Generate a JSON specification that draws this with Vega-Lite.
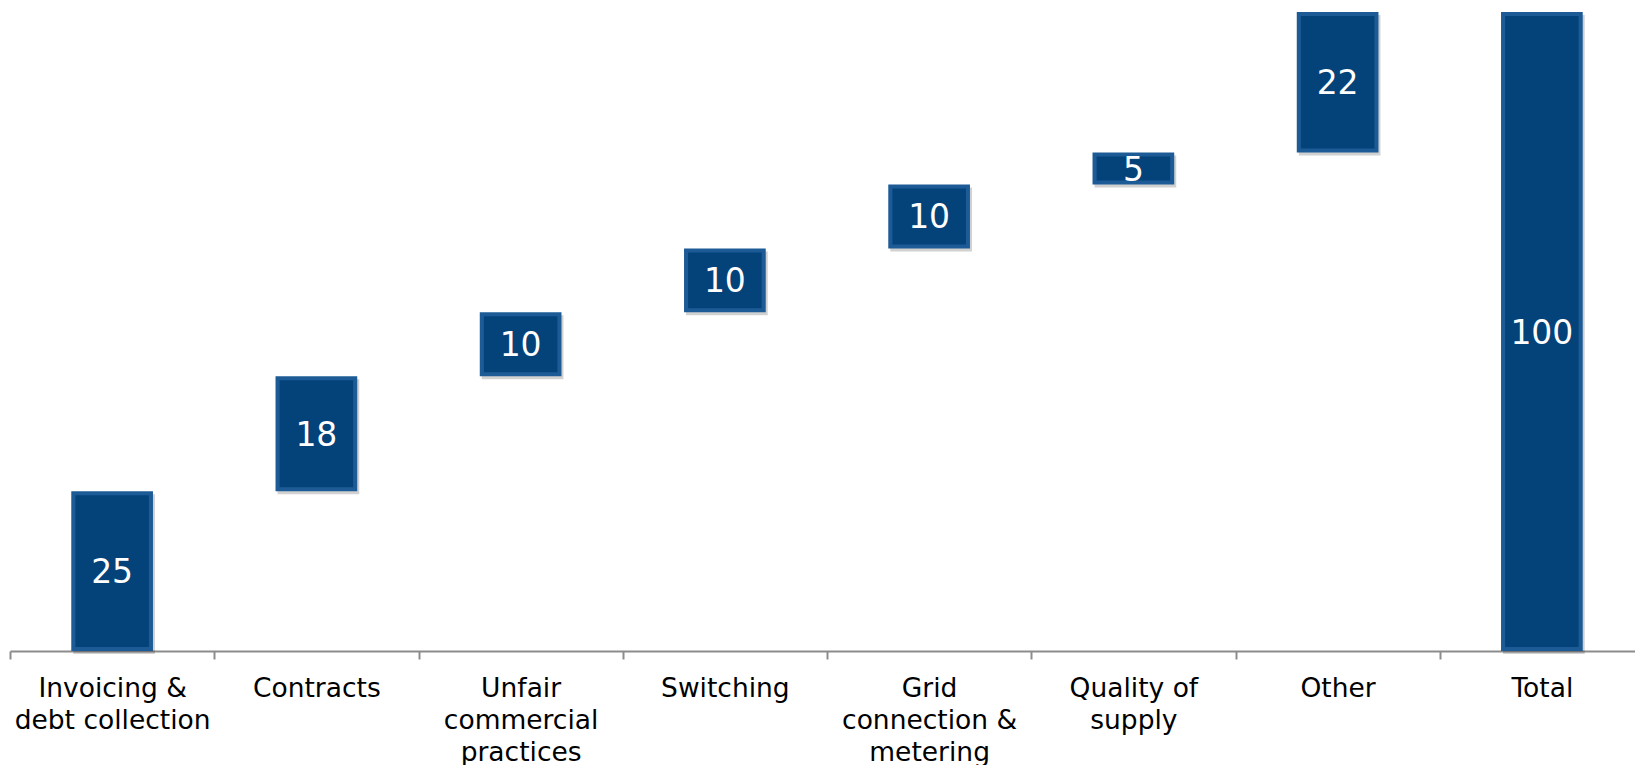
{
  "$schema": "https://vega.github.io/schema/vega-lite/v6.json",
  "width": 1625,
  "height": 639,
  "autosize": {"type": "none"},
  "padding": {"left": 10, "top": 12, "right": 0, "bottom": 114},
  "background": "white",
  "config": {"view": {"stroke": null}},
  "data": {
    "values": [
      {"category": "Invoicing &|debt collection", "start": 0, "end": 25, "value": 25},
      {"category": "Contracts", "start": 25, "end": 43, "value": 18},
      {"category": "Unfair|commercial|practices", "start": 43, "end": 53, "value": 10},
      {"category": "Switching", "start": 53, "end": 63, "value": 10},
      {"category": "Grid|connection &|metering", "start": 63, "end": 73, "value": 10},
      {"category": "Quality of|supply", "start": 73, "end": 78, "value": 5},
      {"category": "Other", "start": 78, "end": 100, "value": 22},
      {"category": "Total", "start": 0, "end": 100, "value": 100}
    ]
  },
  "encoding": {
    "x": {
      "field": "category",
      "type": "nominal",
      "sort": null,
      "scale": {"range": [0, 1634], "paddingInner": 0, "paddingOuter": 0},
      "axis": {
        "title": null,
        "labelExpr": "split(datum.label, '|')",
        "labelAngle": 0,
        "labelFont": "DejaVu Sans",
        "labelFontSize": 26.5,
        "labelLineHeight": 32,
        "labelColor": "#000000",
        "labelPadding": 16,
        "labelLimit": 0,
        "labelOverlap": false,
        "tickBand": "extent",
        "tickSize": 8,
        "tickColor": "#8c8c8c",
        "tickWidth": 2,
        "domainColor": "#8c8c8c",
        "domainWidth": 2
      }
    }
  },
  "layer": [
    {
      "mark": {"type": "bar", "width": {"band": 0.4}, "color": "#000000", "opacity": 0.18, "xOffset": 2, "yOffset": 3, "y2Offset": 3, "cornerRadius": 0},
      "encoding": {
        "y": {"field": "end", "type": "quantitative", "scale": {"domain": [0, 100], "nice": false, "zero": true}, "axis": null},
        "y2": {"field": "start"}
      }
    },
    {
      "mark": {"type": "bar", "width": {"band": 0.4}, "color": "#1d5b96"},
      "encoding": {
        "y": {"field": "end", "type": "quantitative"},
        "y2": {"field": "start"}
      }
    },
    {
      "mark": {"type": "bar", "width": {"band": 0.36}, "color": "#04427a", "yOffset": 4, "y2Offset": -4},
      "encoding": {
        "y": {"field": "end", "type": "quantitative"},
        "y2": {"field": "start"}
      }
    },
    {
      "transform": [{"calculate": "(datum.start + datum.end) / 2", "as": "mid"}],
      "mark": {"type": "text", "font": "DejaVu Sans", "fontSize": 33, "color": "white", "baseline": "middle", "align": "center", "dy": 2},
      "encoding": {
        "y": {"field": "mid", "type": "quantitative"},
        "text": {"field": "value", "type": "quantitative"}
      }
    }
  ]
}
